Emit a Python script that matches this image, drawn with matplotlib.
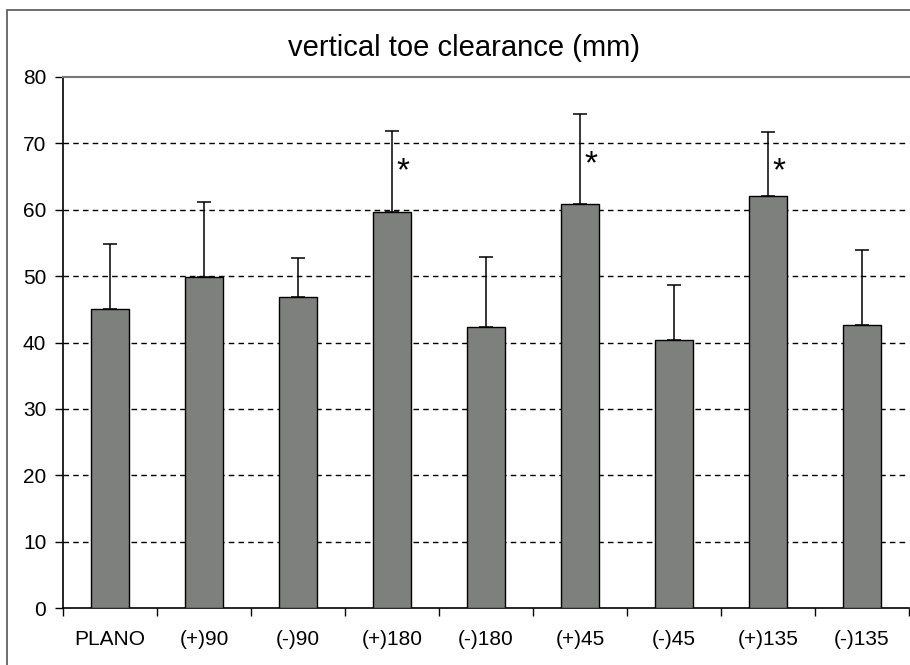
import matplotlib
matplotlib.use("Agg")
import matplotlib.pyplot as plt
from matplotlib.patches import Rectangle

# Data
conditions = ["PLANO", "(+)90", "(-)90", "(+)180", "(-)180", "(+)45", "(-)45", "(+)135", "(-)135"]
means = [45.0, 49.8, 46.8, 59.6, 42.3, 60.8, 40.4, 62.0, 42.6]
sd_upper = [9.8, 11.3, 5.9, 12.2, 10.6, 13.6, 8.2, 9.7, 11.3]
significant = [False, False, False, True, False, True, False, True, False]
star_heights = [0, 0, 0, 67.5, 0, 68.5, 0, 67.5, 0]

plt.rcParams["font.family"] = ["Liberation Sans", "DejaVu Sans"]

fig = plt.figure(figsize=(9.10, 6.65), dpi=100)
ax = fig.add_axes([63 / 910, 57 / 665, 846 / 910, 531 / 665])

# thin frame around the whole chart (left/top visible)
fig.patches.append(Rectangle((7 / 910, -0.1), 1.2, (655 / 665) + 0.1,
                             transform=fig.transFigure, fill=False,
                             edgecolor="#555555", linewidth=1.2))

x = range(len(conditions))
ax.bar(x, means, width=0.41, color="#7e807d", edgecolor="black", linewidth=1.0, zorder=3)
ax.errorbar(x, means, yerr=[[0] * len(means), sd_upper], fmt="none",
            ecolor="black", elinewidth=1.1, capsize=5, capthick=1.1, zorder=4)

# asterisks for significant conditions (glyph sits high, so shift baseline down)
for i, (sig, h) in enumerate(zip(significant, star_heights)):
    if sig:
        ax.text(i + 0.12, h - 3.0, "*", ha="center", va="baseline", fontsize=24, zorder=5)

ax.set_xlim(-0.5, len(conditions) - 0.5)
ax.set_ylim(0, 80)
ax.set_yticks(range(0, 81, 10))
for y in range(10, 80, 10):
    ax.axhline(y, color="black", linestyle=(0, (4, 3)), linewidth=1.0, zorder=1)

ax.set_xticks([i - 0.5 for i in range(len(conditions) + 1)], minor=False)
ax.set_xticklabels([])
ax.set_xticks(list(x), minor=True)
ax.set_xticklabels(conditions, minor=True, fontsize=15)
ax.tick_params(axis="x", which="minor", length=0, pad=16)
ax.tick_params(axis="x", which="major", direction="out", length=6, width=1.0)
ax.tick_params(axis="y", direction="out", length=6, width=1.0, labelsize=15, pad=6)

ax.spines["top"].set_color("#777777")
ax.spines["top"].set_linewidth(1.5)
ax.spines["right"].set_visible(False)
ax.spines["left"].set_linewidth(1.2)
ax.spines["bottom"].set_linewidth(1.2)

fig.text(464 / 910, 1 - 48 / 665, "vertical toe clearance (mm)", ha="center", va="center", fontsize=21)

fig.savefig("out.png", dpi=100)
